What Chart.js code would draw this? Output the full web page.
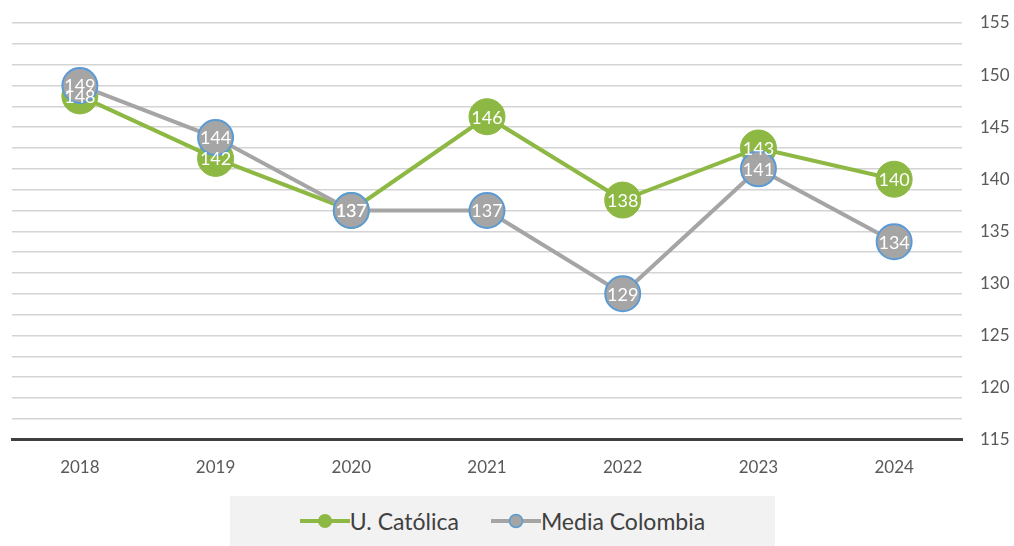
<!DOCTYPE html>
<html>
<head>
<meta charset="utf-8">
<script src="https://cdn.jsdelivr.net/npm/chart.js@4"></script>
<style>
  body { margin: 0; background: #fff; font-family: Lato, "Open Sans", sans-serif; }
  #wrap { position: relative; width: 1014px; height: 546px; }
  #box { position: absolute; left: 0; top: 0; width: 1014px; height: 498px; }
  #legend {
    position: absolute; left: 230px; top: 496px; width: 545px; height: 50px;
    background: #f2f2f2; display: flex; align-items: center; justify-content: center;
    gap: 32px; font-size: 23px; color: #404040;
  }
  #legend .item { display: flex; align-items: center; }
</style>
</head>
<body>
<div id="wrap">
  <div id="box"><canvas id="lineGraph"></canvas></div>
  <div id="legend">
    <div class="item">
      <svg width="50" height="16"><line x1="0" y1="8" x2="50" y2="8" stroke="#8db843" stroke-width="4"/><circle cx="25" cy="8" r="7" fill="#8db843"/></svg>
      <span>U. Católica</span>
    </div>
    <div class="item">
      <svg width="50" height="16"><line x1="0" y1="8" x2="50" y2="8" stroke="#a5a5a5" stroke-width="4"/><circle cx="25" cy="8" r="6.5" fill="#a5a5a5" stroke="#5b9bd5" stroke-width="1.5"/></svg>
      <span>Media Colombia</span>
    </div>
  </div>
</div>
<script>
// data
const years = ['2018', '2019', '2020', '2021', '2022', '2023', '2024'];
const catolica = [148, 142, 137, 146, 138, 143, 140];
const mediaColombia = [149, 144, 137, 137, 129, 141, 134];
const yMin = 115;
const yMax = 155;

document.addEventListener('DOMContentLoaded', function () {

    // white value labels drawn in the middle of each point
    const valueLabels = {
        id: 'valueLabels',
        afterDatasetsDraw(chart) {
            const ctx = chart.ctx;
            ctx.save();
            ctx.font = '18px Lato, "Open Sans", sans-serif';
            ctx.fillStyle = '#ffffff';
            ctx.textAlign = 'center';
            ctx.textBaseline = 'middle';
            chart.data.datasets.forEach(function (ds, i) {
                const meta = chart.getDatasetMeta(i);
                meta.data.forEach(function (pt, j) {
                    ctx.fillText(ds.data[j], pt.x, pt.y + 1);
                });
            });
            ctx.restore();
        }
    };

    const lineGraph = document.getElementById('lineGraph');
    if (lineGraph) {
        const ctx = lineGraph.getContext('2d');
        new Chart(ctx, {
            type: 'line',
            data: {
                labels: years,
                datasets: [{
                    label: 'U. Católica',
                    data: catolica,
                    borderColor: '#8db843',
                    backgroundColor: '#8db843',
                    pointBackgroundColor: '#8db843',
                    pointBorderColor: '#8db843',
                    borderWidth: 4,
                    pointRadius: 18,
                    pointBorderWidth: 1,
                    order: 2
                }, {
                    label: 'Media Colombia',
                    data: mediaColombia,
                    borderColor: '#a5a5a5',
                    backgroundColor: '#a5a5a5',
                    pointBackgroundColor: '#a5a5a5',
                    pointBorderColor: '#5b9bd5',
                    borderWidth: 4,
                    pointRadius: 17.5,
                    pointBorderWidth: 2,
                    order: 1
                }]
            },
            options: {
                responsive: true,
                maintainAspectRatio: false,
                animation: false,
                layout: { autoPadding: false, padding: { left: 12, top: 23, right: 0, bottom: 10 } },
                plugins: {
                    legend: { display: false },
                    tooltip: { enabled: false }
                },
                scales: {
                    x: {
                        offset: true,
                        afterFit: function (scale) { scale.paddingLeft = 0; scale.paddingRight = 0; },
                        grid: { display: false },
                        border: { display: true, color: '#404040', width: 3 },
                        ticks: {
                            color: '#595959',
                            padding: 10,
                            font: { family: 'Lato', size: 17 }
                        }
                    },
                    y: {
                        position: 'right',
                        min: yMin,
                        max: yMax,
                        afterFit: function (scale) { scale.width = 52; scale.paddingTop = 0; scale.paddingBottom = 0; },
                        border: { display: false },
                        grid: {
                            drawTicks: false,
                            lineWidth: 1.5,
                            color: function (c) {
                                return (c.tick && Math.abs(c.tick.value) % 2 === 1) ? '#d4d4d4' : 'rgba(0,0,0,0)';
                            }
                        },
                        ticks: {
                            stepSize: 1,
                            autoSkip: false,
                            padding: 18,
                            color: '#595959',
                            font: { family: 'Lato', size: 17 },
                            callback: function (v) { return v % 5 === 0 ? v : ''; }
                        }
                    }
                }
            },
            plugins: [valueLabels]
        });
    }
});
</script>
</body>
</html>
